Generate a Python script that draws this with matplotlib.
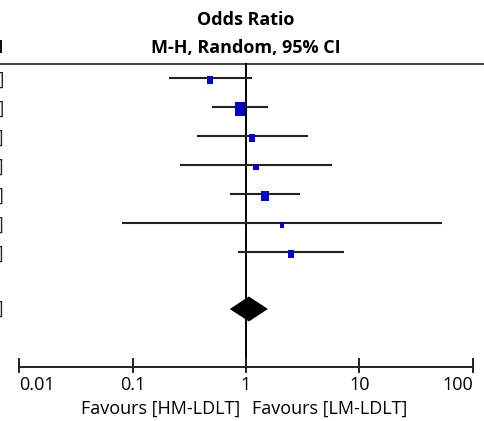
import numpy as np
import matplotlib.pyplot as plt
import matplotlib.transforms as mtransforms

# Study estimates (odds ratio, 95% CI) and weights (%)
odds = [0.48, 0.885, 1.13, 1.23, 1.47, 2.07, 2.49]
ci_low = [0.21, 0.50, 0.37, 0.26, 0.72, 0.08, 0.85]
ci_high = [1.13, 1.56, 3.51, 5.70, 2.99, 53.0, 7.30]
weights = [13.2, 31.3, 11.3, 7.8, 20.1, 5.0, 11.3]
pooled = [1.06, 0.72, 1.56]
tick_vals = [0.01, 0.1, 1, 10, 100]
tick_labels = ["0.01", "0.1", "1", "10", "100"]

plt.rcParams['font.family'] = ['Open Sans', 'DejaVu Sans']

W, H = 485, 421
fig = plt.figure(figsize=(W / 100, H / 100), dpi=100)
ax = fig.add_axes([0, 0, 1, 1])
ax.set_xscale('log')
# pixel mapping: 1 at x=246, one decade = 113.5 px
ax.set_xlim(10 ** (-246 / 113.5), 10 ** ((W - 246) / 113.5))
ax.set_ylim(H, 0)
ax.axis('off')

row_y = [78 + 29 * i for i in range(len(odds))]
sum_y = 309
axis_y = 367
top_y = 64
fs = 13

# left edge label fragments (clipped text columns)
edge = mtransforms.blended_transform_factory(fig.transFigure, ax.transData)
for i in range(len(odds)):
    ax.text(4 / W, row_y[i] + 2, "%.2f [%.2f, %.2f]" % (odds[i], ci_low[i], ci_high[i]),
            transform=edge, ha='right', va='center', fontsize=fs, color='#222222')
ax.text(4 / W, sum_y, "%.2f [%.2f, %.2f]" % tuple(pooled), transform=edge,
        ha='right', va='center', fontsize=fs, color='#222222')
ax.text(4 / W, 48, "95% CI", transform=edge, ha='right', va='center',
        fontsize=fs, fontweight='bold', color='#111111')

# header
ax.text(1, 20, "Odds Ratio", ha='center', va='center', fontsize=fs, fontweight='bold')
ax.text(1, 48, "M-H, Random, 95% CI", ha='center', va='center', fontsize=fs, fontweight='bold')
ax.axhline(top_y, color='#333333', lw=1.3)

# line of no effect
ax.plot([1, 1], [top_y, axis_y], color='black', lw=1.4)

# study CIs and boxes (slightly taller than wide, as in the source)
box = [(-0.77, -1), (0.77, -1), (0.77, 1), (-0.77, 1), (-0.77, -1)]
for i in range(len(odds)):
    ax.plot([ci_low[i], ci_high[i]], [row_y[i], row_y[i]], color='#222222', lw=1.5,
            solid_capstyle='butt')
    h_px = 1.3 * 1.79 * np.sqrt(weights[i])
    ax.plot(odds[i], row_y[i] + 2, marker=box, ms=h_px * 0.72, color='#0000c8',
            mec='#0000c8', mew=0, ls='none')

# pooled diamond
dh = 12.5
ax.fill([pooled[1], pooled[0], pooled[2], pooled[0]],
        [sum_y, sum_y - dh, sum_y, sum_y + dh], color='black', lw=0)

# x axis
ax.plot([tick_vals[0], tick_vals[-1]], [axis_y, axis_y], color='#222222', lw=1.4)
for k, (v, lab) in enumerate(zip(tick_vals, tick_labels)):
    ax.plot([v, v], [axis_y - 8, axis_y + 5], color='#222222', lw=1.4)
    ha = 'left' if k == 0 else ('right' if k == len(tick_vals) - 1 else 'center')
    ax.text(v, 385, lab, ha=ha, va='center', fontsize=fs)

ax.text(0.886, 409, "Favours [HM-LDLT]", ha='right', va='center', fontsize=fs)
ax.text(1.13, 409, "Favours [LM-LDLT]", ha='left', va='center', fontsize=fs)

fig.savefig('out.png', dpi=100)
